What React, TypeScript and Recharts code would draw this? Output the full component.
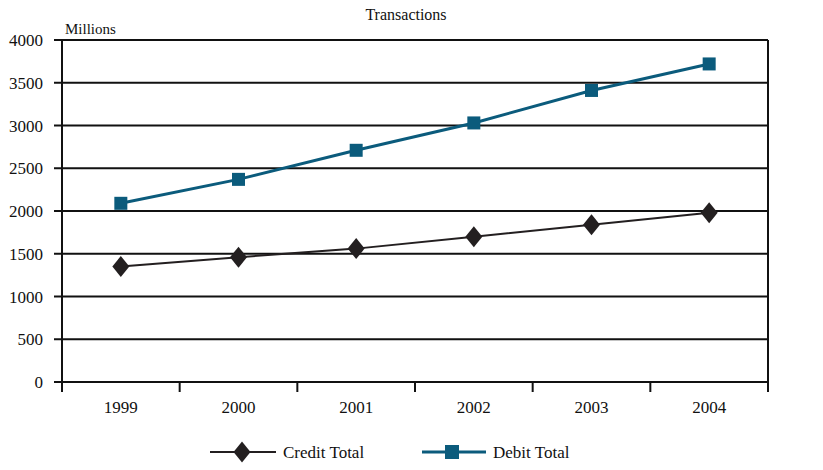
import React from "react";
import {
  LineChart,
  Line,
  XAxis,
  YAxis,
  CartesianGrid,
  Legend,
  Customized,
} from "recharts";

// Annual card transaction counts, in millions
const years = ["1999", "2000", "2001", "2002", "2003", "2004"];
const creditTotal = [1350, 1460, 1560, 1700, 1840, 1980];
const debitTotal = [2090, 2370, 2710, 3030, 3410, 3720];
const valueTicks = [0, 500, 1000, 1500, 2000, 2500, 3000, 3500, 4000];

const data = years.map((year, i) => ({
  year,
  credit: creditTotal[i],
  debit: debitTotal[i],
}));

const FONT = "'Liberation Serif', 'Times New Roman', serif";
const INK = "#111111";
const CREDIT_COLOR = "#231f20";
const DEBIT_COLOR = "#0b5b7c";
const TICK_FONT_SIZE = 17;

const X_TICK_SIZE = 10;
const X_TICK_MARGIN = 9;

const DiamondDot = (props: any) => {
  const { cx, cy } = props;
  if (cx == null || cy == null) return null;
  const w = 8.5;
  const h = 10.5;
  return (
    <path
      d={`M${cx},${cy - h} L${cx + w},${cy} L${cx},${cy + h} L${cx - w},${cy} Z`}
      fill={CREDIT_COLOR}
    />
  );
};

const SquareDot = (props: any) => {
  const { cx, cy } = props;
  if (cx == null || cy == null) return null;
  const s = 13;
  return <rect x={cx - s / 2} y={cy - s / 2} width={s} height={s} fill={DEBIT_COLOR} />;
};

// Category label at the band centre, tick marks at the band edges
const YearTick = (props: any) => {
  const { x, y, payload, index, visibleTicksCount } = props;
  const half = payload?.offset || 58.8;
  const axisY = y - X_TICK_SIZE - X_TICK_MARGIN;
  const isLast = index === (visibleTicksCount ?? years.length) - 1;
  return (
    <g>
      <line x1={x - half} y1={axisY} x2={x - half} y2={axisY + X_TICK_SIZE} stroke={INK} strokeWidth={2} />
      {isLast && (
        <line x1={x + half} y1={axisY} x2={x + half} y2={axisY + X_TICK_SIZE} stroke={INK} strokeWidth={2} />
      )}
      <text x={x} y={y} dy="0.71em" textAnchor="middle" style={{ fontFamily: FONT }} fontSize={TICK_FONT_SIZE} fill={INK}>
        {payload.value}
      </text>
    </g>
  );
};

const LeftTick = (props: any) => {
  const { x, y, payload } = props;
  return (
    <text x={x} y={y} dy="0.355em" textAnchor="end" style={{ fontFamily: FONT }} fontSize={TICK_FONT_SIZE} fill={INK}>
      {payload.value}
    </text>
  );
};

const RightTick = (props: any) => {
  const { x, y, payload } = props;
  return (
    <text x={x} y={y - 2} dy="0.355em" textAnchor="start" style={{ fontFamily: FONT }} fontSize={TICK_FONT_SIZE} fill={INK}>
      {payload.value}
    </text>
  );
};

const Headings = () => (
  <g>
    <text x={406} y={20} textAnchor="middle" style={{ fontFamily: FONT }} fontSize={16} fill={INK}>
      Transactions
    </text>
    <text x={65} y={34} textAnchor="start" style={{ fontFamily: FONT }} fontSize={15} fill={INK}>
      Millions
    </text>
  </g>
);

const LegendContent = () => (
  <svg width={823} height={30} style={{ display: "block" }}>
    <g>
      <line x1={210} y1={15} x2={276} y2={15} stroke={CREDIT_COLOR} strokeWidth={2} />
      <DiamondDot cx={242} cy={15} />
      <text x={283} y={21} style={{ fontFamily: FONT }} fontSize={17} fill={INK}>
        Credit Total
      </text>
    </g>
    <g>
      <line x1={422} y1={15} x2={486} y2={15} stroke={DEBIT_COLOR} strokeWidth={3} />
      <rect x={445} y={8} width={14} height={14} fill={DEBIT_COLOR} />
      <text x={493} y={21} style={{ fontFamily: FONT }} fontSize={17} fill={INK}>
        Debit Total
      </text>
    </g>
  </svg>
);

export default function App() {
  return (
    <div style={{ position: "absolute", left: 0, top: 0, width: 823, height: 470, background: "#fff", fontFamily: FONT }}>
      <LineChart
        width={823}
        height={470}
        data={data}
        margin={{ top: 40, right: 0, bottom: 38, left: 0 }}
      >
        <CartesianGrid vertical={false} stroke={INK} strokeWidth={2} yAxisId="left" />
        <XAxis
          dataKey="year"
          scale="band"
          height={50}
          axisLine={{ stroke: INK, strokeWidth: 2 }}
          tickLine={false}
          tickSize={X_TICK_SIZE}
          tickMargin={X_TICK_MARGIN}
          tick={<YearTick />}
          interval={0}
        />
        <YAxis
          yAxisId="left"
          orientation="left"
          width={62}
          domain={[0, 4000]}
          ticks={valueTicks}
          interval={0}
          axisLine={{ stroke: INK, strokeWidth: 2 }}
          tickLine={{ stroke: INK, strokeWidth: 2 }}
          tickSize={8}
          tickMargin={11}
          tick={<LeftTick />}
        />
        <YAxis
          yAxisId="right"
          orientation="right"
          width={55}
          domain={[0, 4000]}
          ticks={valueTicks}
          interval={0}
          axisLine={{ stroke: INK, strokeWidth: 2 }}
          tickLine={{ stroke: INK, strokeWidth: 2 }}
          tickSize={8}
          tickMargin={6}
          tick={<RightTick />}
        />
        <Line
          yAxisId="left"
          type="linear"
          dataKey="credit"
          name="Credit Total"
          stroke={CREDIT_COLOR}
          strokeWidth={2}
          dot={<DiamondDot />}
          activeDot={false}
          isAnimationActive={false}
        />
        <Line
          yAxisId="left"
          type="linear"
          dataKey="debit"
          name="Debit Total"
          stroke={DEBIT_COLOR}
          strokeWidth={3}
          dot={<SquareDot />}
          activeDot={false}
          isAnimationActive={false}
        />
        <Legend
          layout="horizontal"
          verticalAlign="middle"
          align="center"
          content={<LegendContent />}
          wrapperStyle={{ position: "absolute", left: 0, top: 437, width: 823, height: 30 }}
        />
        <Customized component={<Headings />} />
      </LineChart>
    </div>
  );
}
